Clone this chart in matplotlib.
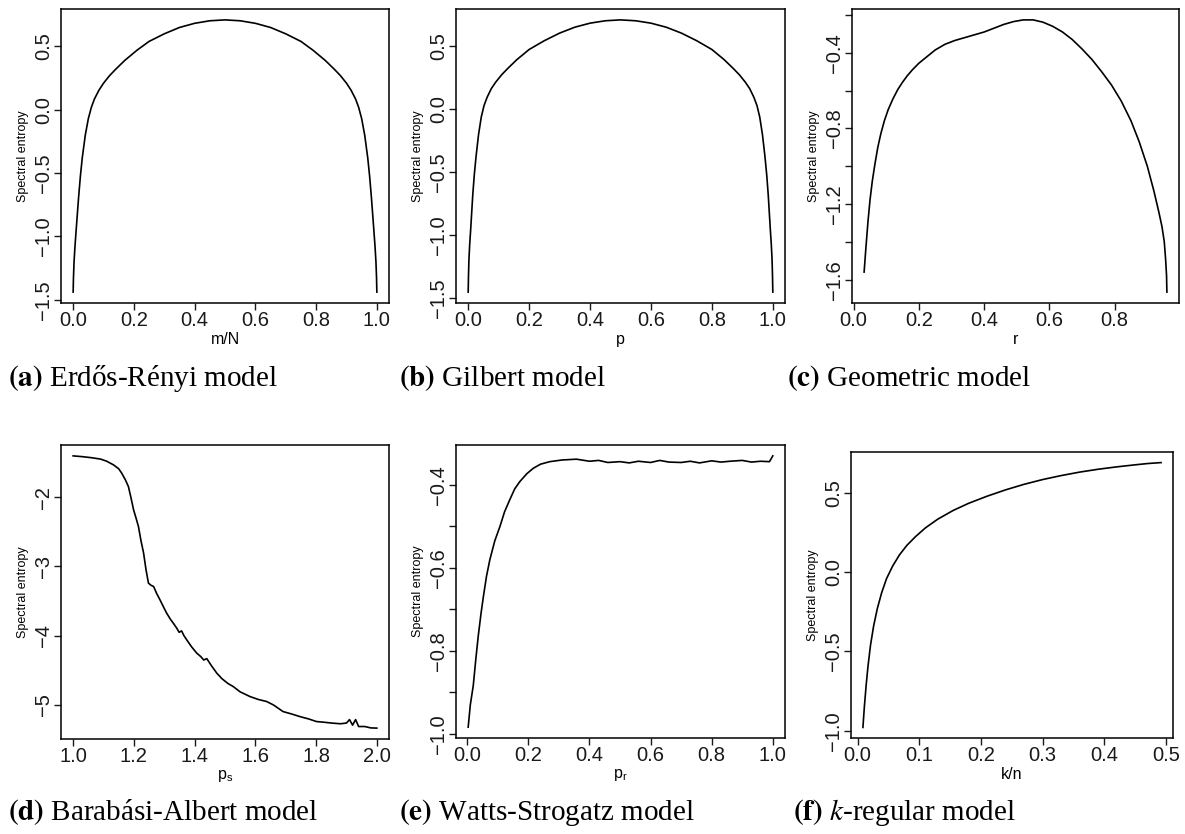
import matplotlib
matplotlib.use("Agg")
import matplotlib.pyplot as plt

plt.rcParams["font.family"] = ["Liberation Sans", "DejaVu Sans"]
plt.rcParams["mathtext.fontset"] = "stix"

# (a) Erdos-Renyi: spectral entropy vs m/N
er_x = [0.0, 0.001, 0.003, 0.006, 0.009, 0.013, 0.018, 0.024, 0.03, 0.04, 0.05, 0.06,
        0.07, 0.085, 0.1, 0.12, 0.14, 0.17, 0.21, 0.25, 0.3, 0.35, 0.4, 0.45, 0.5,
        0.55, 0.6, 0.65, 0.7, 0.75, 0.79, 0.83, 0.86, 0.88, 0.9, 0.915, 0.93, 0.94,
        0.95, 0.96, 0.97, 0.976, 0.982, 0.987, 0.991, 0.994, 0.997, 0.999, 1.0]
er_y = [-1.44, -1.33, -1.20, -1.08, -0.98, -0.85, -0.69, -0.52, -0.38, -0.20, -0.07,
        0.02, 0.085, 0.155, 0.21, 0.27, 0.32, 0.39, 0.47, 0.54, 0.60, 0.65, 0.683,
        0.703, 0.71, 0.703, 0.683, 0.65, 0.60, 0.54, 0.47, 0.39, 0.32, 0.27, 0.21,
        0.155, 0.085, 0.02, -0.07, -0.20, -0.38, -0.52, -0.69, -0.85, -0.98, -1.08,
        -1.20, -1.33, -1.44]

# (b) Gilbert: spectral entropy vs p
gil_x = [0.0, 0.001, 0.0025, 0.005, 0.008, 0.011, 0.015, 0.02, 0.026, 0.034, 0.043,
         0.052, 0.062, 0.076, 0.09, 0.11, 0.13, 0.16, 0.2, 0.25, 0.3, 0.35, 0.4, 0.45,
         0.5, 0.55, 0.6, 0.65, 0.7, 0.75, 0.8, 0.84, 0.87, 0.89, 0.91, 0.924, 0.938,
         0.948, 0.957, 0.966, 0.974, 0.98, 0.985, 0.989, 0.992, 0.995, 0.9975, 0.999,
         1.0]
gil_y = [-1.45, -1.32, -1.19, -1.07, -0.96, -0.84, -0.68, -0.52, -0.37, -0.20, -0.06,
         0.03, 0.095, 0.165, 0.215, 0.275, 0.325, 0.395, 0.475, 0.545, 0.605, 0.652,
         0.684, 0.703, 0.71, 0.703, 0.684, 0.652, 0.605, 0.545, 0.475, 0.395, 0.325,
         0.275, 0.215, 0.165, 0.095, 0.03, -0.06, -0.20, -0.37, -0.52, -0.68, -0.84,
         -0.96, -1.07, -1.19, -1.32, -1.45]

# (c) Geometric: spectral entropy vs r
geo_x = [0.032, 0.038, 0.044, 0.05, 0.057, 0.065, 0.074, 0.083, 0.094, 0.106, 0.12,
         0.135, 0.15, 0.165, 0.18, 0.2, 0.225, 0.25, 0.28, 0.31, 0.34, 0.37, 0.4,
         0.43, 0.46, 0.49, 0.52, 0.55, 0.58, 0.61, 0.64, 0.67, 0.7, 0.73, 0.76, 0.79,
         0.82, 0.85, 0.875, 0.9, 0.92, 0.935, 0.945, 0.952, 0.956, 0.959, 0.96]
geo_y = [-1.56, -1.42, -1.29, -1.18, -1.08, -0.99, -0.90, -0.83, -0.76, -0.70, -0.645,
         -0.595, -0.555, -0.52, -0.49, -0.455, -0.42, -0.385, -0.355, -0.335, -0.32,
         -0.305, -0.29, -0.27, -0.25, -0.235, -0.226, -0.226, -0.238, -0.26, -0.29,
         -0.33, -0.38, -0.435, -0.5, -0.57, -0.655, -0.76, -0.87, -1.0, -1.13, -1.24,
         -1.32, -1.40, -1.49, -1.58, -1.666]

# (d) Barabasi-Albert: spectral entropy vs p_s
ba_x = [1.0, 1.03, 1.06, 1.09, 1.11, 1.133, 1.15, 1.16, 1.172, 1.182, 1.19, 1.199, 1.207,
        1.215, 1.223, 1.232, 1.24, 1.248, 1.256, 1.265, 1.275, 1.286, 1.297, 1.308,
        1.32, 1.33, 1.341, 1.349, 1.357, 1.365, 1.374, 1.39, 1.407, 1.42, 1.43, 1.44,
        1.455, 1.473, 1.49, 1.51, 1.527, 1.55, 1.582, 1.61, 1.637, 1.66, 1.691, 1.72,
        1.746, 1.775, 1.801, 1.83, 1.856, 1.88, 1.9, 1.91, 1.92, 1.93, 1.94, 1.96, 1.98,
        2.0]
ba_y = [-1.404, -1.415, -1.43, -1.45, -1.48, -1.534, -1.59, -1.654, -1.75, -1.847, -2.0,
        -2.183, -2.3, -2.424, -2.62, -2.808, -3.05, -3.241, -3.27, -3.29, -3.39, -3.482,
        -3.58, -3.675, -3.76, -3.82, -3.89, -3.95, -3.93, -4.0, -4.059, -4.16, -4.251,
        -4.3, -4.35, -4.33, -4.43, -4.54, -4.62, -4.69, -4.733, -4.81, -4.877, -4.92,
        -4.949, -5.0, -5.094, -5.13, -5.166, -5.2, -5.238, -5.25, -5.262, -5.27, -5.26,
        -5.21, -5.29, -5.21, -5.31, -5.31, -5.33, -5.333]

# (e) Watts-Strogatz: spectral entropy vs p_r
ws_x = [0.003, 0.01, 0.0196, 0.028, 0.036, 0.045, 0.053, 0.063, 0.074, 0.09, 0.107, 0.122,
        0.139, 0.155, 0.172, 0.195, 0.216, 0.24, 0.27, 0.31, 0.357, 0.4, 0.43, 0.46,
        0.5, 0.53, 0.56, 0.6, 0.63, 0.66, 0.7, 0.73, 0.76, 0.8, 0.83, 0.86, 0.9, 0.93,
        0.96, 0.989, 1.0]
ws_y = [-0.984, -0.93, -0.884, -0.82, -0.764, -0.71, -0.668, -0.62, -0.58, -0.535, -0.5,
        -0.465, -0.436, -0.41, -0.392, -0.373, -0.36, -0.35, -0.344, -0.34, -0.338,
        -0.343, -0.341, -0.346, -0.344, -0.347, -0.343, -0.346, -0.341, -0.345, -0.346,
        -0.343, -0.347, -0.342, -0.345, -0.343, -0.341, -0.345, -0.343, -0.344, -0.33]

# (f) k-regular: spectral entropy vs k/n
kr_x = [0.0087, 0.011, 0.014, 0.017, 0.021, 0.026, 0.032, 0.039, 0.047, 0.057, 0.068,
        0.08, 0.094, 0.11, 0.13, 0.155, 0.18, 0.21, 0.24, 0.27, 0.3, 0.33, 0.36, 0.39,
        0.42, 0.45, 0.47, 0.492]
kr_y = [-0.979, -0.85, -0.71, -0.59, -0.46, -0.34, -0.23, -0.13, -0.04, 0.04, 0.11,
        0.17, 0.225, 0.28, 0.335, 0.39, 0.435, 0.48, 0.52, 0.555, 0.585, 0.61, 0.632,
        0.65, 0.665, 0.678, 0.686, 0.692]

panels = [
    dict(x=er_x, y=er_y, xlabel="m/N", caption=r"$\mathbf{(a)}$ Erdős-Rényi model",
         xticks=[0.0, 0.2, 0.4, 0.6, 0.8, 1.0], xtl=["0.0", "0.2", "0.4", "0.6", "0.8", "1.0"],
         yticks=[-1.5, -1.0, -0.5, 0.0, 0.5], ytl=["\u22121.5", "\u22121.0", "\u22120.5", "0.0", "0.5"]),
    dict(x=gil_x, y=gil_y, xlabel="p", caption=r"$\mathbf{(b)}$ Gilbert model",
         xticks=[0.0, 0.2, 0.4, 0.6, 0.8, 1.0], xtl=["0.0", "0.2", "0.4", "0.6", "0.8", "1.0"],
         yticks=[-1.5, -1.0, -0.5, 0.0, 0.5], ytl=["\u22121.5", "\u22121.0", "\u22120.5", "0.0", "0.5"]),
    dict(x=geo_x, y=geo_y, xlabel="r", caption=r"$\mathbf{(c)}$ Geometric model",
         xticks=[0.0, 0.2, 0.4, 0.6, 0.8], xtl=["0.0", "0.2", "0.4", "0.6", "0.8"],
         yticks=[-1.6, -1.4, -1.2, -1.0, -0.8, -0.6, -0.4, -0.2],
         ytl=["\u22121.6", "", "\u22121.2", "", "\u22120.8", "", "\u22120.4", ""]),
    dict(x=ba_x, y=ba_y, xlabel=r"$\mathregular{p_s}$", caption=r"$\mathbf{(d)}$ Barabási-Albert model",
         xticks=[1.0, 1.2, 1.4, 1.6, 1.8, 2.0], xtl=["1.0", "1.2", "1.4", "1.6", "1.8", "2.0"],
         yticks=[-5, -4, -3, -2], ytl=["\u22125", "\u22124", "\u22123", "\u22122"]),
    dict(x=ws_x, y=ws_y, xlabel=r"$\mathregular{p_r}$", caption=r"$\mathbf{(e)}$ Watts-Strogatz model",
         xticks=[0.0, 0.2, 0.4, 0.6, 0.8, 1.0], xtl=["0.0", "0.2", "0.4", "0.6", "0.8", "1.0"],
         yticks=[-1.0, -0.9, -0.8, -0.7, -0.6, -0.5, -0.4],
         ytl=["\u22121.0", "", "\u22120.8", "", "\u22120.6", "", "\u22120.4"]),
    dict(x=kr_x, y=kr_y, xlabel="k/n", caption=r"$\mathbf{(f)}$ $k$-regular model",
         xticks=[0.0, 0.1, 0.2, 0.3, 0.4, 0.5], xtl=["0.0", "0.1", "0.2", "0.3", "0.4", "0.5"],
         yticks=[-1.0, -0.5, 0.0, 0.5], ytl=["\u22121.0", "\u22120.5", "0.0", "0.5"]),
]

# axes boxes in pixels (left, top, right, bottom)
W, H = 1185, 834
boxes = [(61, 9, 389, 303), (456, 9, 785, 303), (852, 9, 1179, 303),
         (61, 445, 389, 739), (456, 445, 785, 738), (851, 452, 1173, 738)]
caption_pos = [(8, 378), (399, 378), (787, 378), (8, 812), (399, 812), (793, 812)]

fig = plt.figure(figsize=(W / 100, H / 100), dpi=100)

for p, (l, t, r, b), (cx, cy) in zip(panels, boxes, caption_pos):
    ax = fig.add_axes([l / W, 1 - b / H, (r - l) / W, (b - t) / H])
    ax.plot(p["x"], p["y"], color="black", lw=1.2)
    ax.margins(x=0.04, y=0.04)
    ax.set_xticks(p["xticks"], labels=p["xtl"])
    ax.set_yticks(p["yticks"], labels=p["ytl"])
    ax.tick_params(direction="out", length=5, width=1, labelsize=14.5, pad=0.5, colors="#1a1a1a")
    ax.tick_params(axis="y", labelrotation=90)
    for lbl in ax.get_yticklabels():
        lbl.set_va("center")
    for s in ax.spines.values():
        s.set_linewidth(1.1)
    ax.set_xlabel(p["xlabel"], fontsize=11.5, labelpad=1.5)
    ax.set_ylabel("Spectral entropy", fontsize=9, labelpad=4)
    fig.text(cx / W, 1 - cy / H, p["caption"], fontsize=21, va="center", ha="left",
             family=["Liberation Serif", "DejaVu Serif"])

fig.savefig("out.png", dpi=100)
